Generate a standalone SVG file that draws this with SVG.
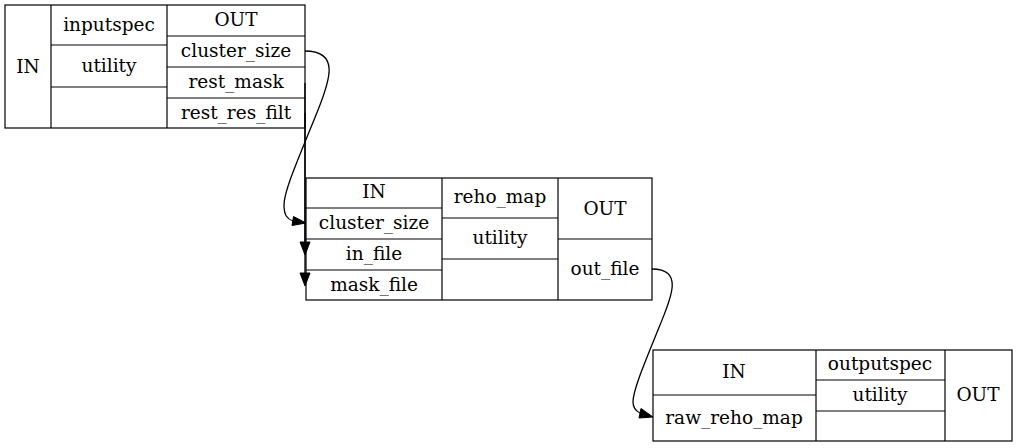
<svg xmlns="http://www.w3.org/2000/svg" width="1017" height="448" viewBox="0 0 1017 448">
<style>
.box, .sep { fill: none; stroke: #000; stroke-width: 1.2; }
text { font-family: "DejaVu Serif", "Liberation Serif", serif; font-size: 18.5px; text-anchor: middle; fill: #000; }
.edge { fill: none; stroke: #000; stroke-width: 1.3; }
.ah { fill: #000; stroke: #000; stroke-width: 1; }
</style>
<rect x="0" y="0" width="1017" height="448" fill="#fff"/>
<g id="node1">
<rect class="box" x="5" y="5" width="300" height="123"/>
<line class="sep" x1="51" y1="5" x2="51" y2="128"/>
<line class="sep" x1="167" y1="5" x2="167" y2="128"/>
<line class="sep" x1="51" y1="45" x2="167" y2="45"/>
<line class="sep" x1="51" y1="87" x2="167" y2="87"/>
<line class="sep" x1="167" y1="36" x2="305" y2="36"/>
<line class="sep" x1="167" y1="67" x2="305" y2="67"/>
<line class="sep" x1="167" y1="98" x2="305" y2="98"/>
<text x="28" y="73">IN</text>
<text x="109" y="31">inputspec</text>
<text x="109" y="72">utility</text>
<text x="236" y="26">OUT</text>
<text x="236" y="57">cluster_size</text>
<text x="236" y="88">rest_mask</text>
<text x="236" y="119">rest_res_filt</text>
</g>
<g id="node2">
<rect class="box" x="306" y="178" width="346" height="122"/>
<line class="sep" x1="442" y1="178" x2="442" y2="300"/>
<line class="sep" x1="558" y1="178" x2="558" y2="300"/>
<line class="sep" x1="306" y1="208" x2="442" y2="208"/>
<line class="sep" x1="306" y1="239" x2="442" y2="239"/>
<line class="sep" x1="306" y1="270" x2="442" y2="270"/>
<line class="sep" x1="442" y1="218" x2="558" y2="218"/>
<line class="sep" x1="442" y1="259" x2="558" y2="259"/>
<line class="sep" x1="558" y1="239" x2="652" y2="239"/>
<text x="374" y="198">IN</text>
<text x="374" y="229">cluster_size</text>
<text x="374" y="260">in_file</text>
<text x="374" y="291">mask_file</text>
<text x="500" y="203">reho_map</text>
<text x="500" y="244">utility</text>
<text x="605" y="215">OUT</text>
<text x="605" y="275">out_file</text>
</g>
<g id="node3">
<rect class="box" x="653" y="350" width="359" height="91"/>
<line class="sep" x1="816" y1="350" x2="816" y2="441"/>
<line class="sep" x1="945" y1="350" x2="945" y2="441"/>
<line class="sep" x1="653" y1="395" x2="816" y2="395"/>
<line class="sep" x1="816" y1="380" x2="945" y2="380"/>
<line class="sep" x1="816" y1="411" x2="945" y2="411"/>
<text x="734" y="378">IN</text>
<text x="734" y="424">raw_reho_map</text>
<text x="880" y="370">outputspec</text>
<text x="880" y="401">utility</text>
<text x="978" y="401">OUT</text>
</g>
<g id="connectors">
<path class="edge" d="M305,51 C340,51 330,80 318,110 C300,155 284,190 284,205 C284,215 287,219 293,221"/>
<polygon class="ah" points="293.5,216.5 306,223 292,225.5"/>
<path class="edge" d="M305,83 L305,273"/>
<polygon class="ah" points="300,273 305,286 310,273"/>
<path class="edge" d="M305,113 L305,242"/>
<polygon class="ah" points="300,242 305,255 310,242"/>
<path class="edge" d="M652,269 C685,269 670,300 660,325 C645,362 633,390 633,402 C633,408 636,411 640,413"/>
<polygon class="ah" points="641,408.5 653,417 639,418"/>
</g>
</svg>
